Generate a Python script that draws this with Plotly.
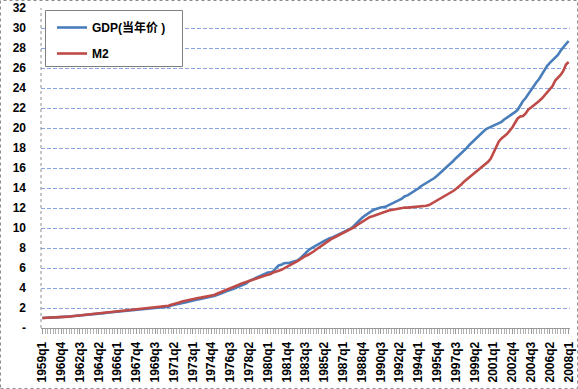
import plotly.graph_objects as go

# quarterly labels 1959q1 .. 2008q1
quarters = [f"{y}q{q}" for y in range(1959, 2008) for q in range(1, 5)] + ["2008q1"]

gdp = [
    1.00, 1.03, 1.03, 1.04,
    1.06, 1.06, 1.07, 1.06,
    1.08, 1.11, 1.14, 1.17,
    1.20, 1.22, 1.24, 1.26,
    1.29, 1.32, 1.35, 1.37,
    1.40, 1.43, 1.46, 1.49,
    1.52, 1.55, 1.58, 1.62,
    1.65, 1.67, 1.69, 1.71,
    1.73, 1.75, 1.78, 1.81,
    1.84, 1.87, 1.90, 1.93,
    1.96, 1.99, 2.01, 2.03,
    2.05, 2.08, 2.11, 2.12,
    2.25, 2.30, 2.35, 2.39,
    2.46, 2.53, 2.59, 2.67,
    2.76, 2.81, 2.86, 2.93,
    2.96, 3.02, 3.09, 3.14,
    3.20, 3.28, 3.39, 3.50,
    3.62, 3.70, 3.78, 3.89,
    4.00, 4.13, 4.26, 4.35,
    4.46, 4.70, 4.82, 4.98,
    5.08, 5.19, 5.32, 5.43,
    5.55, 5.56, 5.69, 5.98,
    6.25, 6.32, 6.47, 6.50,
    6.50, 6.60, 6.68, 6.76,
    6.95, 7.25, 7.50, 7.75,
    7.95, 8.12, 8.28, 8.42,
    8.56, 8.70, 8.85, 8.98,
    9.05, 9.18, 9.30, 9.40,
    9.50, 9.62, 9.78, 9.95,
    10.20, 10.50, 10.78, 11.00,
    11.22, 11.42, 11.60, 11.75,
    11.88, 11.98, 12.06, 12.10,
    12.15, 12.28, 12.40, 12.50,
    12.68, 12.82, 12.97, 13.18,
    13.26, 13.42, 13.55, 13.78,
    13.95, 14.18, 14.34, 14.52,
    14.62, 14.80, 15.00, 15.22,
    15.45, 15.70, 15.95, 16.20,
    16.42, 16.70, 16.98, 17.22,
    17.48, 17.72, 17.98, 18.30,
    18.55, 18.80, 19.05, 19.38,
    19.62, 19.85, 19.98, 20.12,
    20.25, 20.40, 20.48, 20.62,
    20.85, 21.02, 21.20, 21.35,
    21.58, 21.82, 22.32, 22.70,
    23.00, 23.42, 23.78, 24.12,
    24.58, 24.90, 25.38, 25.72,
    26.22, 26.52, 26.76, 27.00,
    27.30, 27.72, 28.10, 28.40,
    28.70,
]

m2 = [
    1.00, 1.01, 1.02, 1.02,
    1.02, 1.03, 1.05, 1.07,
    1.09, 1.12, 1.14, 1.17,
    1.20, 1.23, 1.26, 1.29,
    1.32, 1.35, 1.38, 1.41,
    1.44, 1.47, 1.51, 1.54,
    1.57, 1.60, 1.63, 1.66,
    1.69, 1.71, 1.72, 1.74,
    1.77, 1.81, 1.85, 1.88,
    1.91, 1.94, 1.98, 2.02,
    2.05, 2.07, 2.08, 2.09,
    2.10, 2.13, 2.17, 2.22,
    2.32, 2.42, 2.50, 2.56,
    2.64, 2.71, 2.79, 2.86,
    2.92, 2.97, 3.00, 3.04,
    3.08, 3.12, 3.16, 3.22,
    3.30, 3.42, 3.52, 3.62,
    3.73, 3.82, 3.93, 4.06,
    4.18, 4.30, 4.42, 4.52,
    4.61, 4.70, 4.80, 4.88,
    4.96, 5.05, 5.17, 5.25,
    5.32, 5.40, 5.56, 5.68,
    5.72, 5.82, 5.95, 6.10,
    6.25, 6.40, 6.53, 6.68,
    6.85, 7.05, 7.20, 7.32,
    7.45, 7.65, 7.85, 8.05,
    8.25, 8.45, 8.62, 8.78,
    8.95, 9.08, 9.22, 9.35,
    9.45, 9.60, 9.75, 9.85,
    10.05, 10.25, 10.42, 10.55,
    10.72, 10.92, 11.10, 11.18,
    11.28, 11.42, 11.52, 11.60,
    11.65, 11.75, 11.80, 11.86,
    11.92, 11.94, 11.98, 12.05,
    12.04, 12.06, 12.10, 12.14,
    12.16, 12.18, 12.20, 12.22,
    12.30, 12.45, 12.62, 12.80,
    12.95, 13.10, 13.24, 13.38,
    13.52, 13.70, 13.90, 14.10,
    14.35, 14.62, 14.85, 15.10,
    15.32, 15.50, 15.70, 15.95,
    16.15, 16.38, 16.62, 16.95,
    17.55, 18.15, 18.65, 18.95,
    19.15, 19.40, 19.72, 20.05,
    20.50, 20.95, 21.15, 21.20,
    21.45, 21.85, 22.05, 22.25,
    22.45, 22.70, 22.95, 23.25,
    23.55, 23.80, 24.20, 24.75,
    25.00, 25.30, 25.70, 26.35,
    26.60,
]

y_ticks = list(range(0, 33, 2))
y_ticktext = ["-"] + [str(v) for v in y_ticks[1:]]
label_step = 7
x_idx = list(range(len(quarters)))
x_tickvals = x_idx[::label_step]
x_ticktext = quarters[::label_step]

FONT = "Liberation Sans, Arial, Noto Sans CJK SC, sans-serif"

# plot-area geometry in pixels (used to place decorations)
L, R, T, B = 41, 8, 8, 61
PW, PH = 578 - L - R, 389 - T - B


def px_x(x):
    return (x - L) / PW


def px_y(y):
    return (389 - B - y) / PH


fig = go.Figure()
fig.add_trace(go.Scatter(x=x_idx, y=gdp, mode="lines", name="GDP(当年价 )",
                         line=dict(color="#4a7ebb", width=2.6), legendgroup="a"))
fig.add_trace(go.Scatter(x=x_idx, y=m2, mode="lines", name="M2",
                         line=dict(color="#be4b48", width=2.6), legendgroup="b"))

fig.update_layout(
    width=578, height=389,
    margin=dict(l=L, r=R, t=T, b=B, autoexpand=False),
    paper_bgcolor="white", plot_bgcolor="white",
    font=dict(family=FONT, size=12, color="black"),
    showlegend=True,
    legend=dict(x=px_x(52), y=px_y(13), xanchor="left", yanchor="top",
                bgcolor="rgba(0,0,0,0)", borderwidth=0,
                font=dict(size=12, weight="bold"), traceorder="grouped",
                tracegroupgap=7, itemwidth=30),
    xaxis=dict(range=[-0.5, len(quarters) - 0.5], tickmode="array",
               tickvals=x_tickvals, ticktext=x_ticktext, tickangle=-90,
               tickfont=dict(size=12, weight="bold"), automargin=False,
               showgrid=False, zeroline=False,
               showline=True, linecolor="#9a9a9a", linewidth=1,
               ticks="outside", ticklen=5, tickcolor="#9a9a9a",
               minor=dict(dtick=1, tick0=0, ticks="outside", ticklen=5,
                          tickcolor="#b0b0b0", showgrid=False),
               ticklabelstandoff=3),
    yaxis=dict(range=[0, 32], tickmode="array", tickvals=y_ticks,
               ticktext=y_ticktext, tickfont=dict(size=12, weight="bold"),
               automargin=False,
               showgrid=True, gridcolor="#8aa6de", griddash="4px,2px",
               gridwidth=1, zeroline=False, showline=False,
               ticks="", ticklabelstandoff=14),
)

# legend frame
fig.add_shape(type="rect", xref="paper", yref="paper",
              x0=px_x(45.5), x1=px_x(182.5), y0=px_y(66.5), y1=px_y(10.5),
              line=dict(color="#808080", width=1), fillcolor="white", layer="above")
# left axis line (dotted grey) and chart-area dotted frame
fig.add_shape(type="line", xref="paper", yref="paper", x0=0, x1=0, y0=0, y1=1,
              line=dict(color="#8c8c8c", width=1, dash="dot"))
fig.add_shape(type="rect", xref="paper", yref="paper",
              x0=px_x(0.5), x1=px_x(577.5), y0=px_y(388.5), y1=px_y(0.5),
              line=dict(color="#8c8c8c", width=1, dash="dot"))

fig.write_html("out.html", config={"displayModeBar": False},
               post_script="document.body.style.margin='0';document.body.style.overflow='hidden';")
